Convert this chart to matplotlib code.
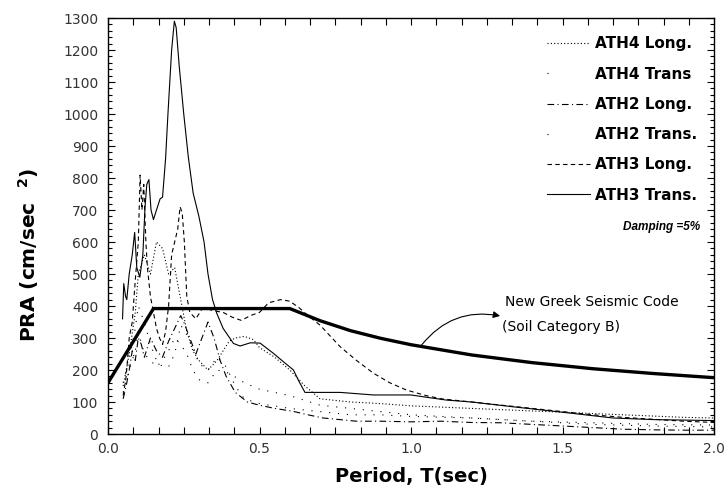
import matplotlib
matplotlib.use("Agg")
import matplotlib.pyplot as plt
from matplotlib.ticker import MultipleLocator

# response spectra (T in sec, PRA in cm/sec^2)
t_ath3_trans = [0.048, 0.052, 0.058, 0.062, 0.07, 0.08, 0.088, 0.095, 0.105, 0.115, 0.122, 0.128, 0.135,
                0.142, 0.15, 0.16, 0.172, 0.18, 0.19, 0.198, 0.21, 0.219, 0.225, 0.235, 0.25, 0.265, 0.281,
                0.30, 0.317, 0.33, 0.345, 0.359, 0.38, 0.414, 0.436, 0.47, 0.502, 0.546, 0.58, 0.612, 0.63,
                0.65, 0.766, 0.876, 1.0, 1.05, 1.117, 1.2, 1.337, 1.5, 1.667, 1.8, 2.0]
v_ath3_trans = [360, 470, 430, 420, 500, 560, 630, 520, 490, 560, 706, 780, 795,
                700, 670, 700, 735, 740, 860, 1003, 1200, 1290, 1270, 1150, 1000, 866, 753,
                680, 600, 500, 420, 377, 330, 283, 275, 285, 284, 252, 225, 200, 165,
                130, 130, 122, 122, 115, 106, 100, 85, 68, 50, 45, 42]

t_ath3_long = [0.05, 0.06, 0.07, 0.08, 0.09, 0.10, 0.106, 0.112, 0.118, 0.125, 0.13, 0.14, 0.15, 0.16,
               0.17, 0.18, 0.19, 0.20, 0.21, 0.22, 0.23, 0.238, 0.245, 0.252, 0.26, 0.27, 0.29, 0.31,
               0.33, 0.35, 0.38, 0.41, 0.44, 0.47, 0.50, 0.53, 0.57, 0.60, 0.63, 0.66, 0.70, 0.766,
               0.82, 0.876, 0.93, 0.986, 1.05, 1.1, 1.2, 1.3, 1.4, 1.5, 1.6, 1.7, 1.8, 1.9, 2.0]
v_ath3_long = [120, 180, 300, 350, 480, 600, 809, 700, 780, 600, 520, 430, 380, 330,
               300, 280, 320, 400, 560, 600, 640, 710, 690, 600, 430, 380, 360, 390,
               390, 385, 380, 365, 355, 370, 380, 410, 420, 415, 395, 370, 340, 273,
               230, 190, 160, 137, 120, 110, 100, 90, 80, 70, 60, 52, 46, 40, 36]

t_ath4_long = [0.05, 0.07, 0.09, 0.10, 0.12, 0.14, 0.16, 0.18, 0.20, 0.22, 0.24, 0.26, 0.28, 0.30,
               0.33, 0.36, 0.38, 0.40, 0.42, 0.45, 0.48, 0.50, 0.55, 0.60, 0.65, 0.70, 0.80, 0.90,
               1.0, 1.1, 1.2, 1.3, 1.4, 1.5, 1.6, 1.7, 1.8, 1.9, 2.0]
v_ath4_long = [150, 250, 380, 500, 560, 500, 600, 580, 500, 520, 420, 320, 260, 230,
               200, 230, 260, 290, 300, 305, 295, 270, 240, 200, 150, 110, 100, 95,
               88, 84, 80, 76, 72, 68, 64, 60, 56, 52, 50]

t_ath4_trans = [0.05, 0.07, 0.09, 0.10, 0.12, 0.14, 0.16, 0.18, 0.20, 0.22, 0.24, 0.26, 0.28, 0.30,
                0.33, 0.36, 0.40, 0.45, 0.50, 0.55, 0.60, 0.70, 0.80, 1.0, 1.2, 1.4, 1.6, 1.8, 2.0]
v_ath4_trans = [130, 200, 260, 320, 250, 230, 210, 230, 260, 300, 280, 250, 200, 170,
                160, 200, 190, 160, 140, 130, 120, 90, 80, 60, 50, 40, 35, 30, 28]

t_ath2_long = [0.05, 0.06, 0.07, 0.08, 0.09, 0.10, 0.11, 0.12, 0.13, 0.14, 0.16, 0.18, 0.20, 0.22,
               0.24, 0.25, 0.27, 0.29, 0.31, 0.33, 0.35, 0.37, 0.39, 0.42, 0.46, 0.50, 0.55, 0.61,
               0.66, 0.71, 0.82, 0.90, 1.0, 1.1, 1.2, 1.3, 1.4, 1.5, 1.6, 1.7, 1.8, 1.9, 2.0]
v_ath2_long = [110, 150, 200, 260, 230, 300, 280, 240, 270, 300, 260, 240, 290, 330,
               370, 350, 300, 250, 300, 350, 300, 230, 180, 130, 100, 90, 80, 71,
               60, 50, 40, 40, 38, 40, 36, 35, 30, 25, 20, 15, 13, 12, 12]

t_ath2_trans = [0.05, 0.07, 0.09, 0.10, 0.12, 0.14, 0.16, 0.18, 0.20, 0.22, 0.24, 0.26, 0.28, 0.30,
                0.33, 0.36, 0.39, 0.42, 0.45, 0.50, 0.60, 0.70, 0.80, 0.90, 1.0, 1.2, 1.4, 1.6, 1.8, 2.0]
v_ath2_trans = [160, 230, 330, 400, 350, 280, 230, 210, 210, 250, 340, 310, 270, 220,
                200, 240, 210, 150, 110, 95, 80, 70, 60, 60, 55, 50, 40, 30, 25, 22]

# design spectrum, New Greek Seismic Code, soil category B
t_code = [0.0, 0.15, 0.6, 0.7, 0.8, 0.9, 1.0, 1.2, 1.4, 1.6, 1.8, 2.0]
v_code = [160, 392, 392, 354, 323, 299, 279, 247, 223, 204, 189, 176]

plt.rcParams["font.family"] = ["DejaVu Sans"]

fig = plt.figure(figsize=(7.26, 4.97), dpi=100)
ax = fig.add_axes([108 / 726, 63 / 497, 606 / 726, 416 / 497])

lw = 0.8
ax.plot(t_ath4_long, v_ath4_long, color="k", lw=lw, ls=(0, (1, 2)), label="ATH4 Long.")
ax.plot(t_ath4_trans, v_ath4_trans, color="k", lw=lw, ls=(0, (1, 7)), label="ATH4 Trans")
ax.plot(t_ath2_long, v_ath2_long, color="k", lw=lw, ls=(0, (6, 3, 1, 3)), label="ATH2 Long.")
ax.plot(t_ath2_trans, v_ath2_trans, color="k", lw=lw, ls=(0, (1, 7)), label="ATH2 Trans.")
ax.plot(t_ath3_long, v_ath3_long, color="k", lw=lw, ls=(0, (4, 3)), label="ATH3 Long.")
ax.plot(t_ath3_trans, v_ath3_trans, color="k", lw=lw, ls="-", label="ATH3 Trans.")
ax.plot(t_code, v_code, color="k", lw=2.4, solid_capstyle="butt")

ax.set_xlim(0, 2.0)
ax.set_ylim(0, 1300)
ax.xaxis.set_major_locator(MultipleLocator(0.5))
ax.xaxis.set_minor_locator(MultipleLocator(0.5 / 6))
ax.yaxis.set_major_locator(MultipleLocator(100))
ax.yaxis.set_minor_locator(MultipleLocator(20))
ax.xaxis.set_major_formatter(plt.FuncFormatter(lambda v, p: "%.1f" % v))
ax.tick_params(which="both", direction="in", top=True, right=True, width=0.8)
ax.tick_params(which="major", length=5, labelsize=10, labelcolor="#333333")
ax.tick_params(which="minor", length=3)
ax.tick_params(axis="x", which="minor", length=5)
ax.tick_params(axis="y", pad=7)
ax.tick_params(axis="x", pad=6)
for s in ax.spines.values():
    s.set_linewidth(1.0)

ax.set_xlabel("Period, T(sec)", fontsize=14, fontweight="bold", labelpad=8)
ax.set_ylabel("PRA (cm/sec  $^{\\mathbf{2}}$)", fontsize=14.5, fontweight="bold")
ax.yaxis.set_label_coords(-0.11, 0.43)

leg = ax.legend(loc="upper left", bbox_to_anchor=(0.724, 0.956), frameon=False,
                prop={"weight": "bold", "size": 11}, handlelength=2.8, handletextpad=0.33,
                labelspacing=1.0, borderpad=0, borderaxespad=0)
# the sparse-dot series show a single dot in the key
leg.get_lines()[1].set_linestyle((0, (1, 80)))
leg.get_lines()[3].set_linestyle((0, (1, 80)))

ax.text(0.977, 0.4976, "Damping =5%", transform=ax.transAxes, ha="right", va="center",
        fontsize=8.5, fontweight="bold", style="italic", family="Liberation Sans")

ax.annotate("", xy=(1.294, 369), xytext=(1.035, 278),
            arrowprops=dict(arrowstyle="-|>", color="k", lw=0.8, mutation_scale=10,
                            connectionstyle="arc3,rad=-0.3", shrinkA=0, shrinkB=0))
ax.text(1.31, 412, "New Greek Seismic Code", fontsize=10, va="center", ha="left")
ax.text(1.30, 334, "(Soil Category B)", fontsize=10, va="center", ha="left")

fig.savefig("out.png", dpi=100)
